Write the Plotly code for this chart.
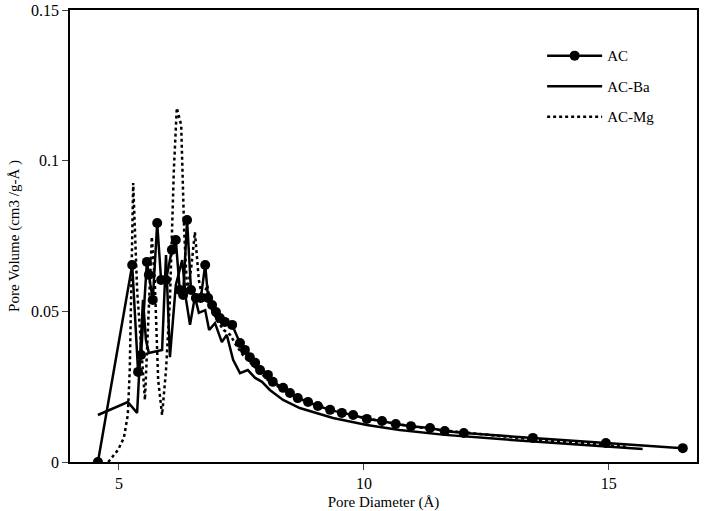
import plotly.graph_objects as go

ac_x = [4.57, 5.27, 5.39, 5.45, 5.57, 5.61, 5.69, 5.78, 5.86, 5.96, 6.08, 6.16, 6.24, 6.31,
        6.39, 6.47, 6.57, 6.67, 6.76, 6.82, 6.90, 6.98, 7.06, 7.16, 7.31, 7.47, 7.57, 7.67,
        7.78, 7.88, 8.04, 8.14, 8.35, 8.49, 8.65, 8.86, 9.06, 9.31, 9.55, 9.78, 10.06, 10.37,
        10.65, 10.96, 11.35, 11.65, 12.04, 13.45, 14.94, 16.51]
ac_y = [0.0, 0.0654, 0.0299, 0.0355, 0.0664, 0.0621, 0.0538, 0.0793, 0.0604, 0.0604, 0.0704,
        0.0737, 0.0571, 0.0554, 0.0803, 0.0571, 0.0544, 0.0544, 0.0654, 0.0544, 0.0521, 0.0498,
        0.0478, 0.0465, 0.0455, 0.0395, 0.0372, 0.0348, 0.0329, 0.0305, 0.0289, 0.0266, 0.0246,
        0.0229, 0.0212, 0.0199, 0.0186, 0.0173, 0.0163, 0.0156, 0.0143, 0.0136, 0.0126, 0.0119,
        0.0113, 0.0103, 0.0096, 0.0080, 0.0063, 0.0046]

ba_x = [4.57, 5.18, 5.37, 5.49, 5.55, 5.61, 5.88, 5.96, 6.04, 6.16, 6.29, 6.37, 6.45, 6.55,
        6.63, 6.76, 6.84, 6.96, 7.10, 7.20, 7.33, 7.47, 7.63, 7.78, 7.92, 8.08, 8.35, 8.69,
        9.37, 10.06, 10.73, 11.65, 12.78, 14.00, 15.69]
ba_y = [0.0156, 0.0199, 0.0163, 0.0538, 0.0405, 0.0362, 0.0372, 0.0687, 0.0348, 0.0587,
        0.0670, 0.0538, 0.0455, 0.0548, 0.0495, 0.0504, 0.0438, 0.0461, 0.0398, 0.0422,
        0.0339, 0.0295, 0.0305, 0.0279, 0.0266, 0.0239, 0.0206, 0.0179, 0.0146, 0.0123,
        0.0106, 0.0090, 0.0076, 0.0063, 0.0043]

mg_x = [4.78, 4.98, 5.10, 5.18, 5.22, 5.29, 5.37, 5.45, 5.53, 5.59, 5.67, 5.73, 5.80, 5.88,
        5.96, 6.04, 6.12, 6.18, 6.27, 6.33, 6.39, 6.47, 6.55, 6.63, 6.71, 6.80, 6.90, 7.02,
        7.14, 7.27, 7.39, 7.53, 7.67, 7.84, 8.04, 8.29, 8.59, 8.90, 9.31, 9.82, 10.33, 10.94,
        11.55, 12.37, 13.39, 14.41, 15.39]
mg_y = [0.0, 0.0040, 0.0080, 0.0156, 0.0305, 0.0926, 0.0571, 0.0372, 0.0206, 0.0438, 0.0747,
        0.0604, 0.0272, 0.0156, 0.0305, 0.0538, 0.0969, 0.1175, 0.1118, 0.0770, 0.0571, 0.0637,
        0.0763, 0.0604, 0.0538, 0.0587, 0.0504, 0.0465, 0.0438, 0.0422, 0.0388, 0.0355, 0.0332,
        0.0305, 0.0272, 0.0246, 0.0219, 0.0199, 0.0176, 0.0153, 0.0136, 0.0119, 0.0106, 0.0093,
        0.0076, 0.0063, 0.0050]

x_ticks = [5, 10, 15]
y_ticks = [0, 0.05, 0.1, 0.15]
y_tick_text = ["0", "0.05", "0.1", "0.15"]

FONT = "Liberation Serif, Times New Roman, serif"

fig = go.Figure()
fig.add_trace(go.Scatter(x=ac_x, y=ac_y, name="AC", mode="lines+markers", legendgroup="a",
                         line=dict(color="black", width=2.5),
                         marker=dict(color="black", size=10)))
fig.add_trace(go.Scatter(x=ba_x, y=ba_y, name="AC-Ba", mode="lines", legendgroup="b",
                         line=dict(color="black", width=2.5)))
fig.add_trace(go.Scatter(x=mg_x, y=mg_y, name="AC-Mg", mode="lines", legendgroup="c",
                         line=dict(color="black", width=2.5, dash="dot")))

fig.update_layout(
    width=705, height=511,
    margin=dict(l=70, r=8, t=10, b=49),
    paper_bgcolor="white", plot_bgcolor="white",
    font=dict(family=FONT, size=16, color="black"),
    showlegend=True,
    legend=dict(x=0.753, y=0.935, xanchor="left", yanchor="top",
                bgcolor="rgba(0,0,0,0)", font=dict(size=15, family=FONT),
                tracegroupgap=8, itemwidth=55),
    xaxis=dict(range=[4, 16.8], tickvals=x_ticks, ticks="outside", ticklen=6,
               showgrid=False, zeroline=False, showline=True, linecolor="black",
               linewidth=1.5, mirror=True, automargin=False,
               tickfont=dict(size=16, family=FONT),
               title=dict(text="Pore Diameter (Å)", font=dict(size=15, family=FONT), standoff=6)),
    yaxis=dict(range=[0, 0.15], tickvals=y_ticks, ticktext=y_tick_text, ticks="outside",
               ticklen=6, showgrid=False, zeroline=False, showline=True, linecolor="black",
               linewidth=1.5, mirror=True, automargin=False,
               tickfont=dict(size=16, family=FONT),
               title=dict(text="Pore Volume (cm3 /g-Å )", font=dict(size=15, family=FONT), standoff=8)),
)

fig.write_html("out.html")
